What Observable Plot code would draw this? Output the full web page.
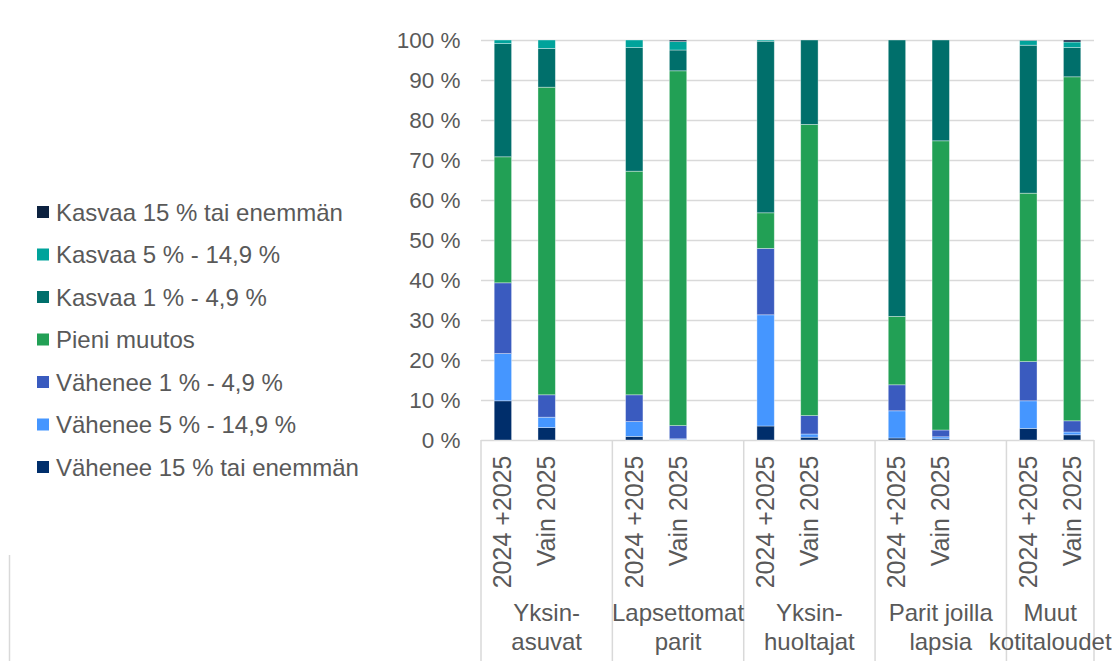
<!DOCTYPE html>
<html>
<head>
<meta charset="utf-8">
<script src="https://cdn.jsdelivr.net/npm/d3@7"></script>
<script src="https://cdn.jsdelivr.net/npm/@observablehq/plot@0.6"></script>
<style>
  body { margin: 0; background: #ffffff; }
  #chart svg { display: block; }
</style>
</head>
<body>
<div id="chart"></div>
<script>
// Household groups (two-line labels) and the two periods shown per group
const groups = [
  ["Yksin-", "asuvat"],
  ["Lapsettomat", "parit"],
  ["Yksin-", "huoltajat"],
  ["Parit joilla", "lapsia"],
  ["Muut", "kotitaloudet"]
];
const periods = ["2024 +2025", "Vain 2025"];

// Series, listed from the bottom of each stack to the top
const seriesNames = [
  "Vähenee 15 % tai enemmän",
  "Vähenee 5 % - 14,9 %",
  "Vähenee 1 % - 4,9 %",
  "Pieni muutos",
  "Kasvaa 1 % - 4,9 %",
  "Kasvaa 5 % - 14,9 %",
  "Kasvaa 15 % tai enemmän"
];
const seriesColors = ["#002e6b", "#4596ff", "#3a5bbf", "#22a055", "#006f6b", "#00a39b", "#0d2240"];

// Shares (%) per bar, in order: group 1 (2024 +2025, Vain 2025), group 2, ...
const vahenee15 = [9.8, 3.1, 0.9, 0.1, 3.5, 0.7, 0.5, 0.3, 2.9, 1.3];
const vahenee5  = [11.8, 2.6, 3.7, 0.2, 27.8, 0.8, 6.8, 0.5, 6.9, 0.7];
const vahenee1  = [17.7, 5.6, 6.7, 3.3, 16.6, 4.6, 6.5, 1.7, 9.8, 2.8];
const pieni     = [31.5, 76.9, 55.9, 88.7, 8.9, 72.8, 17.1, 72.3, 42.1, 86.0];
const kasvaa1   = [28.3, 9.7, 30.9, 5.2, 42.9, 21.1, 69.1, 25.2, 37.0, 7.3];
const kasvaa5   = [0.9, 2.1, 1.9, 2.1, 0.3, 0.0, 0.0, 0.0, 1.2, 1.4];
const kasvaa15  = [0.0, 0.0, 0.0, 0.4, 0.0, 0.0, 0.0, 0.0, 0.1, 0.5];

const yTicks = [0, 0.1, 0.2, 0.3, 0.4, 0.5, 0.6, 0.7, 0.8, 0.9, 1];

const seriesValues = [vahenee15, vahenee5, vahenee1, pieni, kasvaa1, kasvaa5, kasvaa15];

// Category slots: two bars per group plus an empty spacer between groups
const slots = [];
groups.forEach((g, gi) => {
  periods.forEach((p, pi) => slots.push(`${gi}|${pi}`));
  if (gi < groups.length - 1) slots.push(`${gi}|gap`);
});

const rows = [];
seriesNames.forEach((name, si) => {
  seriesValues[si].forEach((v, i) => {
    rows.push({slot: `${Math.floor(i / 2)}|${i % 2}`, series: name, value: v});
  });
});

const barLabels = [];
groups.forEach((g, gi) => periods.forEach((p, pi) => barLabels.push({slot: `${gi}|${pi}`, label: p})));

const textColor = "#595959";
const gridColor = "#d9d9d9";
const font = "'Liberation Sans', Arial, sans-serif";

const chart = Plot.plot({
  width: 1112,
  height: 661,
  marginLeft: 481,
  marginRight: 18,
  marginTop: 40,
  marginBottom: 221,
  style: {fontFamily: font, fontSize: "22px", color: textColor, background: "#ffffff", overflow: "visible"},
  x: {domain: slots, padding: 0, round: false, axis: null},
  y: {domain: [0, 1], label: null},
  color: {domain: seriesNames, range: seriesColors},
  marks: [
    Plot.ruleY(yTicks, {stroke: gridColor, strokeWidth: 1.5}),
    Plot.axisY(yTicks, {
      tickSize: 0,
      tickPadding: 21,
      fontSize: 22.5,
      fill: textColor,
      label: null,
      tickFormat: d => `${Math.round(d * 100)} %`
    }),
    Plot.barY(rows, Plot.stackY({
      x: "slot",
      y: "value",
      fill: "series",
      order: seriesNames,
      offset: "normalize",
      insetLeft: 13.2,
      insetRight: 13.2,
      stroke: "#ffffff",
      strokeOpacity: 0.45,
      strokeWidth: 0.8
    })),
    Plot.text(barLabels, {
      x: "slot",
      y: 0,
      text: "label",
      rotate: -90,
      textAnchor: "end",
      lineAnchor: "middle",
      dy: 15,
      fontSize: 25,
      fill: textColor
    })
  ]
});

document.getElementById("chart").appendChild(chart);

// Group separators and two-line group names under the bar labels
const xs = chart.scale("x");
const svg = d3.select(chart);
const deco = svg.append("g");
const yBase = chart.scale("y").apply(0);
const bounds = groups.map((g, gi) => {
  const left = xs.apply(`${gi}|0`);
  const lastKey = gi < groups.length - 1 ? `${gi}|gap` : `${gi}|1`;
  const right = xs.apply(lastKey) + xs.bandwidth;
  return [left, right];
});
const edges = [bounds[0][0], ...bounds.map(b => b[1])];
edges.forEach(xe => {
  deco.append("line")
    .attr("x1", xe).attr("x2", xe)
    .attr("y1", yBase).attr("y2", 661)
    .attr("stroke", gridColor).attr("stroke-width", 1.5);
});
groups.forEach((g, gi) => {
  const cx = (bounds[gi][0] + bounds[gi][1]) / 2;
  g.forEach((line, li) => {
    deco.append("text")
      .attr("x", cx).attr("y", 621 + li * 29)
      .attr("text-anchor", "middle")
      .attr("font-family", font).attr("font-size", 24)
      .attr("fill", textColor)
      .text(line);
  });
});

// Chart border on the left
deco.append("line")
  .attr("x1", 9.5).attr("x2", 9.5).attr("y1", 555).attr("y2", 661)
  .attr("stroke", gridColor).attr("stroke-width", 1.5);

// Legend, top entry first (reverse of stacking order)
const legend = svg.append("g").attr("text-anchor", "start");
seriesNames.slice().reverse().forEach((name, i) => {
  const cy = 212 + i * 42.5;
  const color = seriesColors[seriesNames.length - 1 - i];
  legend.append("rect")
    .attr("x", 37).attr("y", cy - 6).attr("width", 12).attr("height", 12)
    .attr("fill", color);
  legend.append("text")
    .attr("x", 56).attr("y", cy)
    .attr("dy", "0.36em")
    .attr("text-anchor", "start")
    .attr("font-family", font).attr("font-size", 24)
    .attr("fill", textColor)
    .text(name);
});
</script>
</body>
</html>
